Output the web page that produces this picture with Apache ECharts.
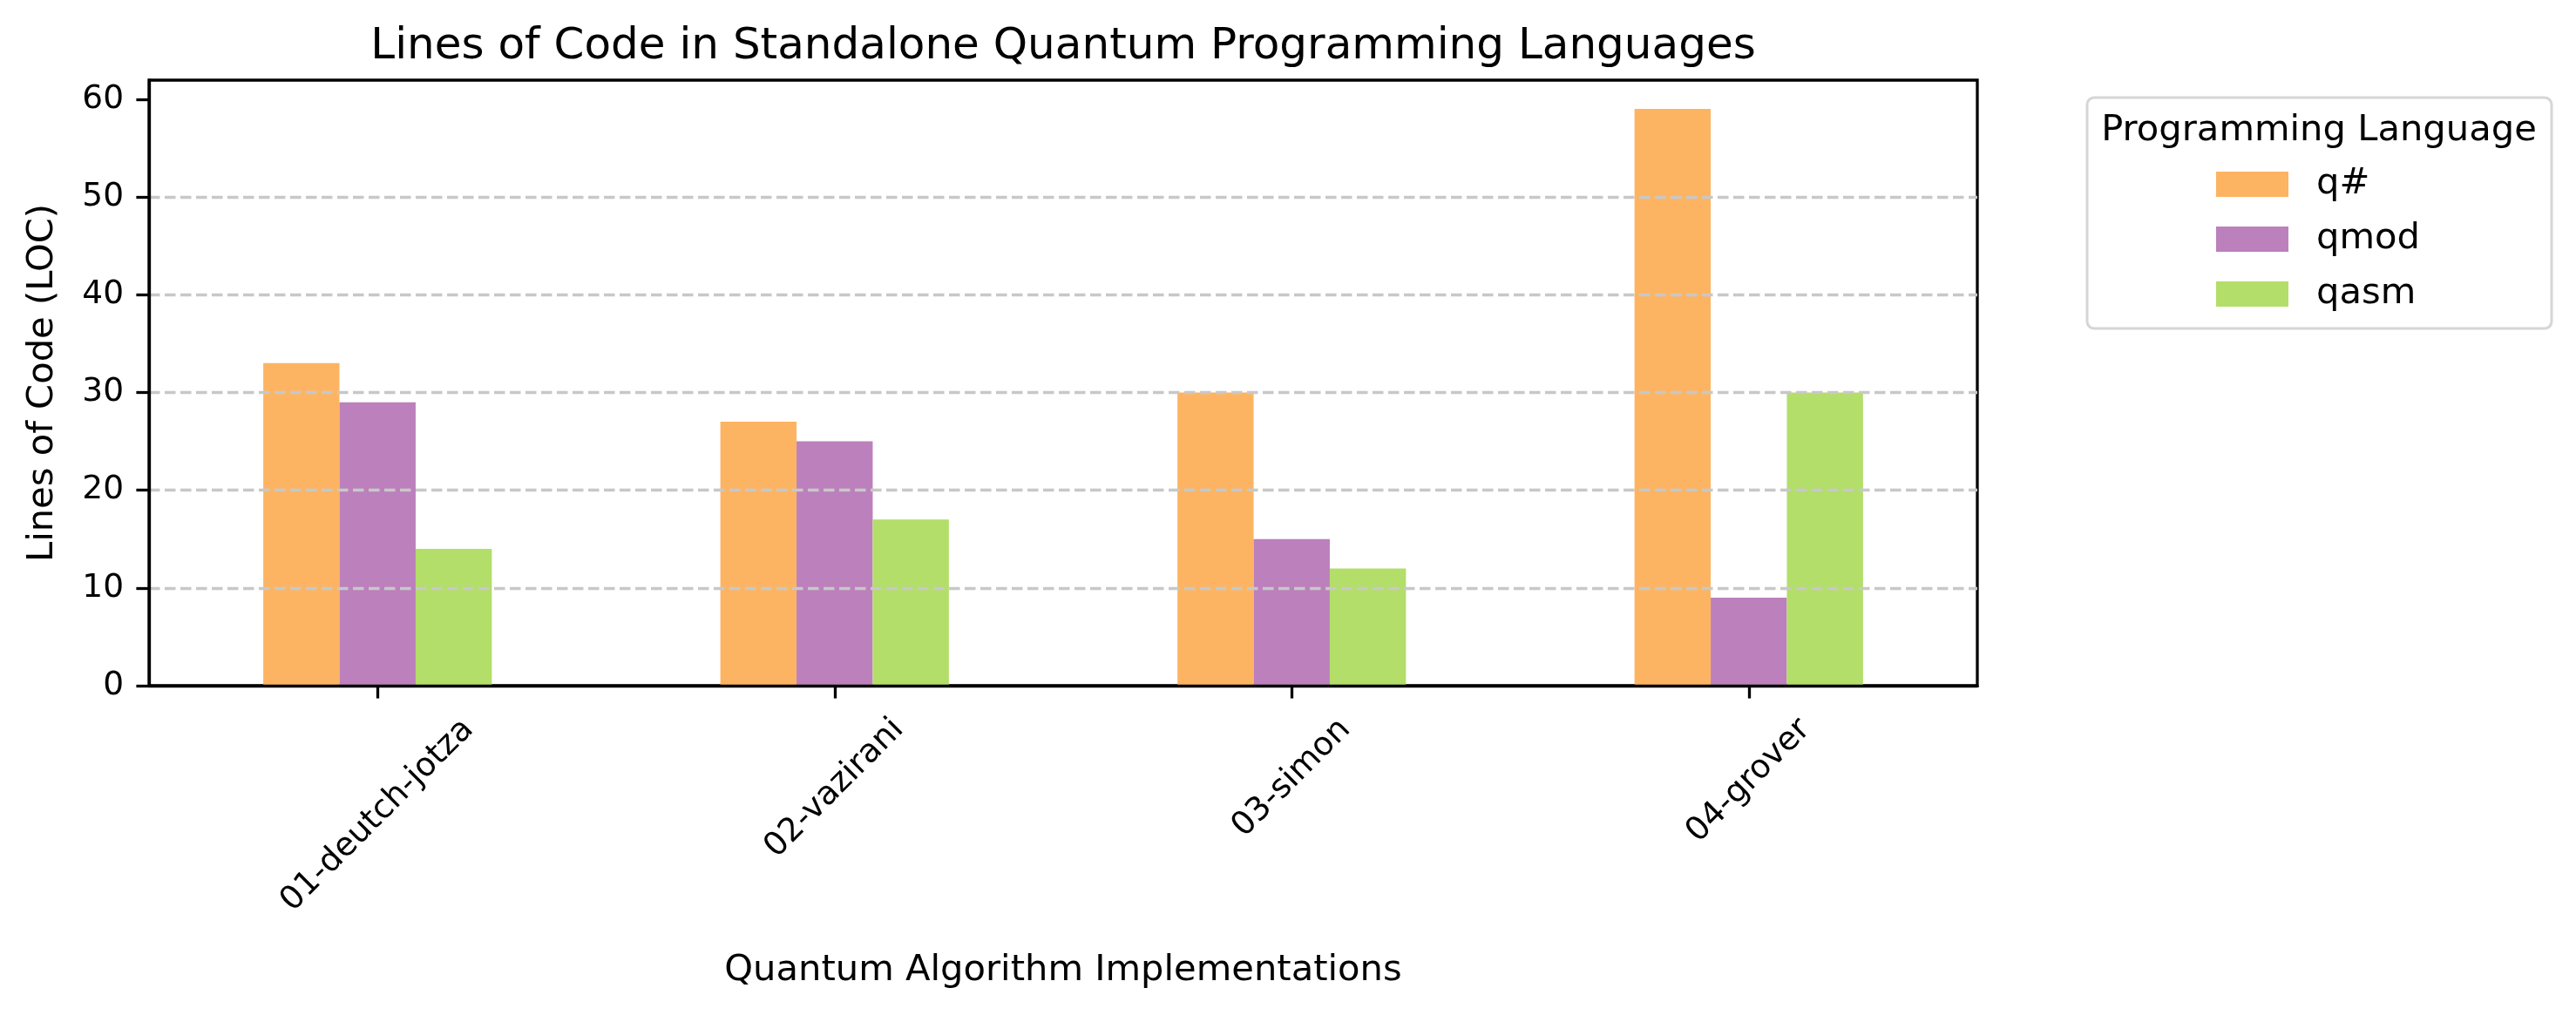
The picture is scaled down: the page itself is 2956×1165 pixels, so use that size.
<!DOCTYPE html>
<html>
<head>
<meta charset="utf-8">
<script src="https://cdn.jsdelivr.net/npm/echarts@6/dist/echarts.min.js"></script>
<style>
  html, body { margin: 0; padding: 0; background: #fff; }
  #chart { width: 2956px; height: 1165px; }
</style>
</head>
<body>
<div id="chart"></div>
<script>
// data
const categories = ['01-deutch-jotza', '02-vazirani', '03-simon', '04-grover'];
const languages = ['q#', 'qmod', 'qasm'];
const qsharpLoc = [33, 27, 30, 59];
const qmodLoc = [29, 25, 15, 9];
const qasmLoc = [14, 17, 12, 30];
const yTicks = [0, 10, 20, 30, 40, 50, 60];
const colors = ['#fdb462', '#bc80bd', '#b3de69'];

const FONT = 'DejaVu Sans';
const tickFont = 37.5;
const labelFont = 41.67;
const yMax = 61.95;

// rotated x labels: matplotlib centres the rotated box under the tick,
// top of box sits a fixed distance below the axis
const ctx = document.createElement('canvas').getContext('2d');
ctx.font = tickFont + 'px "' + FONT + '"';
const lh = 44, top0 = 29;

const chart = echarts.init(document.getElementById('chart'));

const seriesData = [qsharpLoc, qmodLoc, qasmLoc];

const barSeries = languages.map((name, i) => ({
    name: name,
    type: 'bar',
    data: seriesData[i],
    barWidth: '16.6667%',
    barGap: '0%',
    itemStyle: { color: colors[i] },
    z: 2
}));

const labelSeries = {
    type: 'custom',
    name: 'xlabels',
    silent: true,
    clip: false,
    z: 10,
    data: categories.map((c, i) => [i, 0]),
    renderItem(params, api) {
        const i = api.value(0);
        const p = api.coord([i, 0]);
        const text = categories[i];
        const w = ctx.measureText(text).width;
        const d = top0 + (w + lh) / (2 * Math.SQRT2);
        return {
            type: 'text',
            x: p[0],
            y: p[1] + d,
            rotation: Math.PI / 4,
            style: {
                text: text,
                fontFamily: FONT,
                fontSize: tickFont,
                lineHeight: lh,
                fill: '#000',
                align: 'center',
                verticalAlign: 'middle'
            }
        };
    }
};

chart.setOption({
    animation: false,
    backgroundColor: '#fff',
    textStyle: { fontFamily: FONT, color: '#000' },
    title: {
        text: 'Lines of Code in Standalone Quantum Programming Languages',
        left: 1220,
        textAlign: 'center',
        top: 29,
        padding: 0,
        textStyle: { fontFamily: FONT, fontSize: 50, fontWeight: 'normal', color: '#000', lineHeight: 50 }
    },
    grid: {
        left: 171, right: 687, top: 92, bottom: 378,
        show: true, borderColor: '#000', borderWidth: 3.3,
        containLabel: false,
        outerBoundsMode: 'none'
    },
    legend: {
        data: languages,
        orient: 'vertical',
        left: 2543,
        top: 190.5,
        padding: 0,
        itemWidth: 83,
        itemHeight: 29,
        itemGap: 21,
        icon: 'rect',
        selectedMode: false,
        itemStyle: { borderWidth: 0 },
        textStyle: { fontFamily: FONT, fontSize: labelFont, color: '#000', lineHeight: 29, padding: [0, 0, 0, 27] },
        z: 4
    },
    graphic: [
        {
            type: 'rect',
            z: 1,
            shape: { x: 2395, y: 112, width: 533, height: 265, r: 8 },
            style: { fill: '#fff', stroke: '#d6d6d6', lineWidth: 3 }
        },
        {
            type: 'text',
            z: 2,
            x: 2661,
            y: 150,
            style: {
                text: 'Programming Language',
                fontFamily: FONT, fontSize: labelFont, fill: '#000',
                align: 'center', verticalAlign: 'middle'
            }
        }
    ],
    xAxis: {
        type: 'category',
        data: categories,
        z: 10,
        boundaryGap: true,
        name: 'Quantum Algorithm Implementations',
        nameLocation: 'middle',
        nameGap: 327,
        nameMoveOverlap: false,
        nameTextStyle: { fontFamily: FONT, fontSize: labelFont, color: '#000', verticalAlign: 'middle', align: 'center' },
        axisLine: { show: true, lineStyle: { color: '#000', width: 3.3 } },
        axisTick: { show: true, alignWithLabel: true, length: 14.6, lineStyle: { color: '#000', width: 3.3 } },
        axisLabel: { show: false },
        splitLine: { show: false }
    },
    yAxis: {
        type: 'value',
        min: 0,
        max: yMax,
        interval: 10,
        z: 5,
        name: 'Lines of Code (LOC)',
        nameLocation: 'middle',
        nameGap: 122,
        nameMoveOverlap: false,
        nameTextStyle: { fontFamily: FONT, fontSize: labelFont, color: '#000', verticalAlign: 'middle', align: 'center' },
        axisLine: { show: true, lineStyle: { color: '#000', width: 3.3 } },
        axisTick: { show: true, length: 14.6, customValues: yTicks, lineStyle: { color: '#000', width: 3.3 } },
        axisLabel: {
            customValues: yTicks,
            margin: 29,
            fontFamily: FONT,
            fontSize: tickFont,
            color: '#000'
        },
        splitLine: {
            show: true,
            showMinLine: false,
            showMaxLine: false,
            lineStyle: { color: '#c8c8c8', width: 3.3, type: [12.5, 5.5] }
        }
    },
    series: barSeries.concat([labelSeries])
});
</script>
</body>
</html>
